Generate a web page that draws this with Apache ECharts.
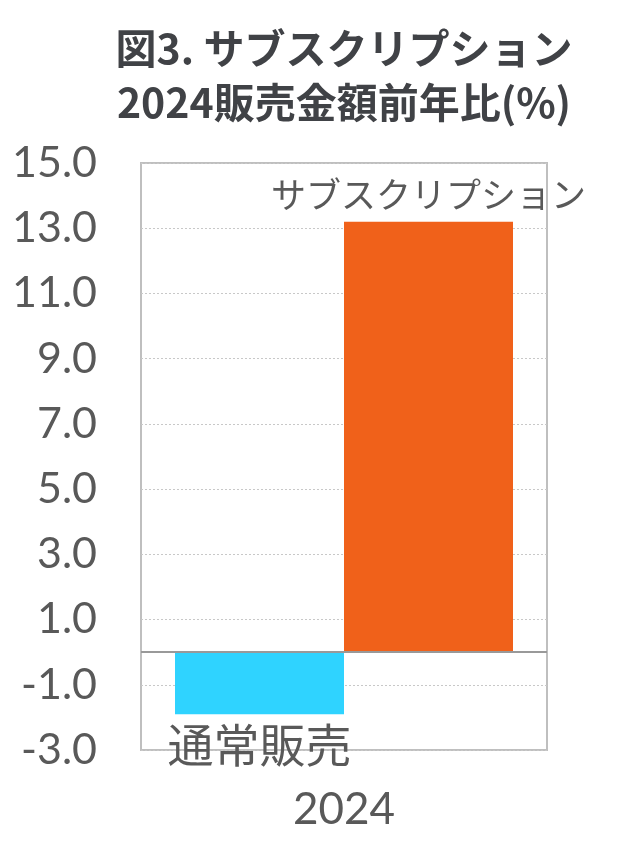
<!DOCTYPE html>
<html><head><meta charset="utf-8">
<script src="https://cdn.jsdelivr.net/npm/echarts@6/dist/echarts.min.js"></script>
<style>html,body{margin:0;padding:0;background:#fff}#c{width:625px;height:843px}</style>
</head><body><div id="c"></div>
<script>
const categories = ['2024'];
const seriesNames = ['通常販売', 'サブスクリプション'];
const regularSales = [-1.9];
const subscriptionSales = [13.2];
const titleLines = ['図3. サブスクリプション', '2024販売金額前年比(%)'];

const chart = echarts.init(document.getElementById('c'), null, {renderer: 'canvas'});
const cjk = '"Noto Sans CJK JP", sans-serif';
chart.setOption({
  animation: false,
  backgroundColor: '#fff',
  title: {
    text: titleLines.join('\n'),
    left: 339, top: 16, textAlign: 'center',
    textStyle: {fontFamily: cjk, fontWeight: 'bold', fontSize: 41, lineHeight: 54, color: '#404246'}
  },
  grid: {left: 141, right: 78, top: 163, bottom: 93, show: true, borderColor: '#bfbfbf', borderWidth: 2},
  xAxis: {
    type: 'category', data: categories,
    axisLine: {show: false, onZero: false}, axisTick: {show: false},
    axisLabel: {fontFamily: 'Lato', fontSize: 44, color: '#595959', margin: 38}
  },
  yAxis: {
    type: 'value', min: -3, max: 15, interval: 2,
    axisLine: {show: false}, axisTick: {show: false},
    axisLabel: {fontFamily: 'Lato', fontSize: 43, color: '#595959', margin: 44,
      formatter: v => v.toFixed(1)},
    splitLine: {show: true, lineStyle: {type: [2, 2], color: '#c8c8c8', width: 1}}
  },
  series: [
    {
      name: seriesNames[0], type: 'bar', data: regularSales, barWidth: 169, barGap: '0%',
      itemStyle: {color: '#2fd3ff'},
      label: {show: true, position: 'bottom', distance: 7, formatter: seriesNames[0],
        fontFamily: cjk, fontSize: 46, color: '#595959'},
      markLine: {silent: true, symbol: 'none', label: {show: false},
        lineStyle: {color: '#999', width: 2, type: 'solid'}, data: [{yAxis: 0}]}
    },
    {
      name: seriesNames[1], type: 'bar', data: subscriptionSales, barWidth: 169, barGap: '0%',
      itemStyle: {color: '#f0611a'},
      label: {show: true, position: 'top', distance: 9, formatter: seriesNames[1],
        fontFamily: cjk, fontSize: 35, color: '#595959'}
    }
  ]
});
</script></body></html>
